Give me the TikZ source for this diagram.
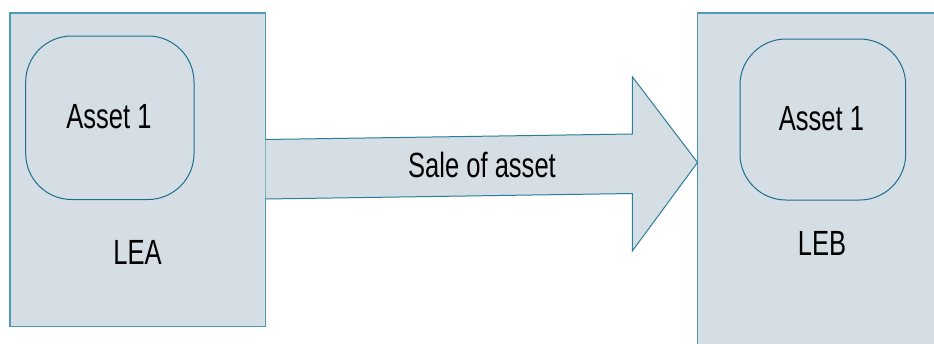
\documentclass[tikz,border=0pt]{standalone}
\usepackage{fontspec}
\setmainfont{Liberation Sans}[FakeStretch=0.73]
\definecolor{boxfill}{HTML}{D6DEE5}
\definecolor{boxline}{HTML}{4F9BB3}
\definecolor{roundline}{HTML}{1B6F8C}
\definecolor{arrowline}{HTML}{2A7E98}
\begin{document}
\begin{tikzpicture}[x=1pt,y=-1pt,
  entity/.style={draw=boxline,fill=boxfill,line width=1.2pt},
  assetbox/.style={draw=roundline,fill=boxfill,line width=1pt,rounded corners=46pt},
  lbl/.style={anchor=base,inner sep=0pt,font=\fontsize{35}{40}\selectfont}]
\useasboundingbox (0,0) rectangle (934,343);
\clip (0,0) rectangle (934,343);
% entity boxes
\draw[entity] (10,13) rectangle (265.5,326.5);
\draw[entity] (697.5,13) rectangle (960,370);
% asset boxes
\draw[assetbox] (25.7,36) rectangle (194,199.5);
\draw[assetbox] (740,39) rectangle (905.7,200);
% arrow
\coordinate (a1) at (265.5,139.5);
\coordinate (a2) at (632.3,134);
\coordinate (a3) at (632.3,76.7);
\coordinate (tip) at (697.5,162.5);
\coordinate (a4) at (632.3,251);
\coordinate (a5) at (632.3,193.5);
\coordinate (a6) at (265.5,199);
\draw[draw=arrowline,fill=boxfill,line width=1pt,line join=miter]
  (a1) -- (a2) -- (a3) -- (tip) -- (a4) -- (a5) -- (a6);
% labels
\node[lbl] (asset1) at (109,128) {Asset 1};
\node[lbl] (asset2) at (821.5,130.5) {Asset 1};
\node[lbl] (lea) at (137.5,264.3) {LEA};
\node[lbl] (leb) at (822,255) {LEB};
\node[lbl] (sale) at (482,177.7) {Sale of asset};
\end{tikzpicture}
\end{document}
